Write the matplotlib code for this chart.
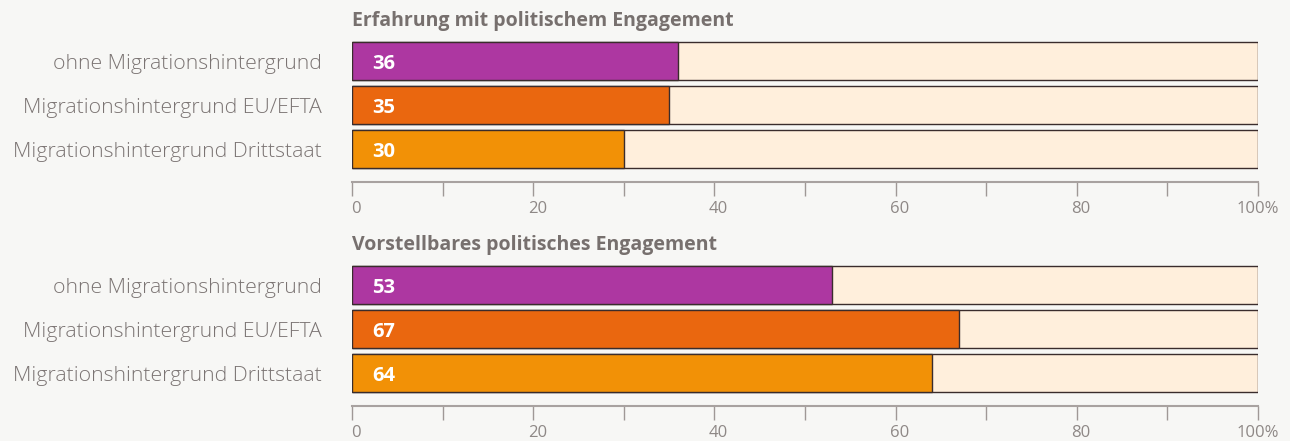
import matplotlib.pyplot as plt
from matplotlib.ticker import FixedLocator
from matplotlib.transforms import ScaledTranslation

groups = ["ohne Migrationshintergrund",
          "Migrationshintergrund EU/EFTA",
          "Migrationshintergrund Drittstaat"]
titles = ["Erfahrung mit politischem Engagement",
          "Vorstellbares politisches Engagement"]
erfahrung = [36, 35, 30]
vorstellbar = [53, 67, 64]
tick_values = [0, 20, 40, 60, 80, 100]
tick_labels = ["0", "20", "40", "60", "80", "100%"]
minor_values = [10, 30, 50, 70, 90]

colors = ["#AD37A1", "#EA670F", "#F29106"]
track = "#FFEFDC"
bg = "#F7F7F5"
grey = "#7B7473"
edge = "#3A2C2C"

plt.rcParams["font.family"] = ["Open Sans", "DejaVu Sans"]

W, H = 1290, 441
fig = plt.figure(figsize=(W / 100, H / 100), dpi=100, facecolor=bg)

left, right = 352, 1258
# (axes top px, axis line px) for each panel
panels = [(36, 182), (260, 406)]
unit = 44.0

for (top, bottom), title, values in zip(panels, titles, [erfahrung, vorstellbar]):
    ax = fig.add_axes([left / W, 1 - bottom / H, (right - left) / W, (bottom - top) / H])
    ax.set_facecolor("none")
    y = list(range(len(groups)))
    ax.barh(y, [100] * len(y), height=38 / unit, color=track, edgecolor=edge, linewidth=1)
    ax.barh(y, values, height=38 / unit, color=colors, edgecolor=edge, linewidth=1)
    for yi, v in zip(y, values):
        ax.text(2.2, yi, str(v), color="white", fontsize=14.5, fontweight="bold",
                va="center_baseline", ha="left")
    ax.set_xlim(0, 100)
    ax.set_ylim(2 + 32.5 / unit, -25 / unit)

    ax.set_yticks(y)
    ax.set_yticklabels(groups, fontsize=15.3, color=grey, fontweight="light")
    ax.tick_params(axis="y", length=0, pad=22)

    ax.set_xticks(tick_values)
    ax.set_xticklabels(tick_labels, fontsize=12, color="#8E8886")
    ax.xaxis.set_minor_locator(FixedLocator(minor_values))
    ax.tick_params(axis="x", which="both", direction="out", length=10, width=1,
                   color="#9F9896", pad=4)
    offset = ScaledTranslation(3 / 72, 0, fig.dpi_scale_trans)
    for lab in ax.get_xticklabels()[:-1]:
        lab.set_transform(lab.get_transform() + offset)
    for s in ["top", "right", "left"]:
        ax.spines[s].set_visible(False)
    ax.spines["bottom"].set_color("#A8A2A0")
    ax.spines["bottom"].set_linewidth(1.5)

    fig.text(left / W, 1 - (top - 15) / H, title, fontsize=14, fontweight="bold",
             color="#77706E", ha="left", va="center")

fig.savefig("out.png", dpi=100, facecolor=bg)
